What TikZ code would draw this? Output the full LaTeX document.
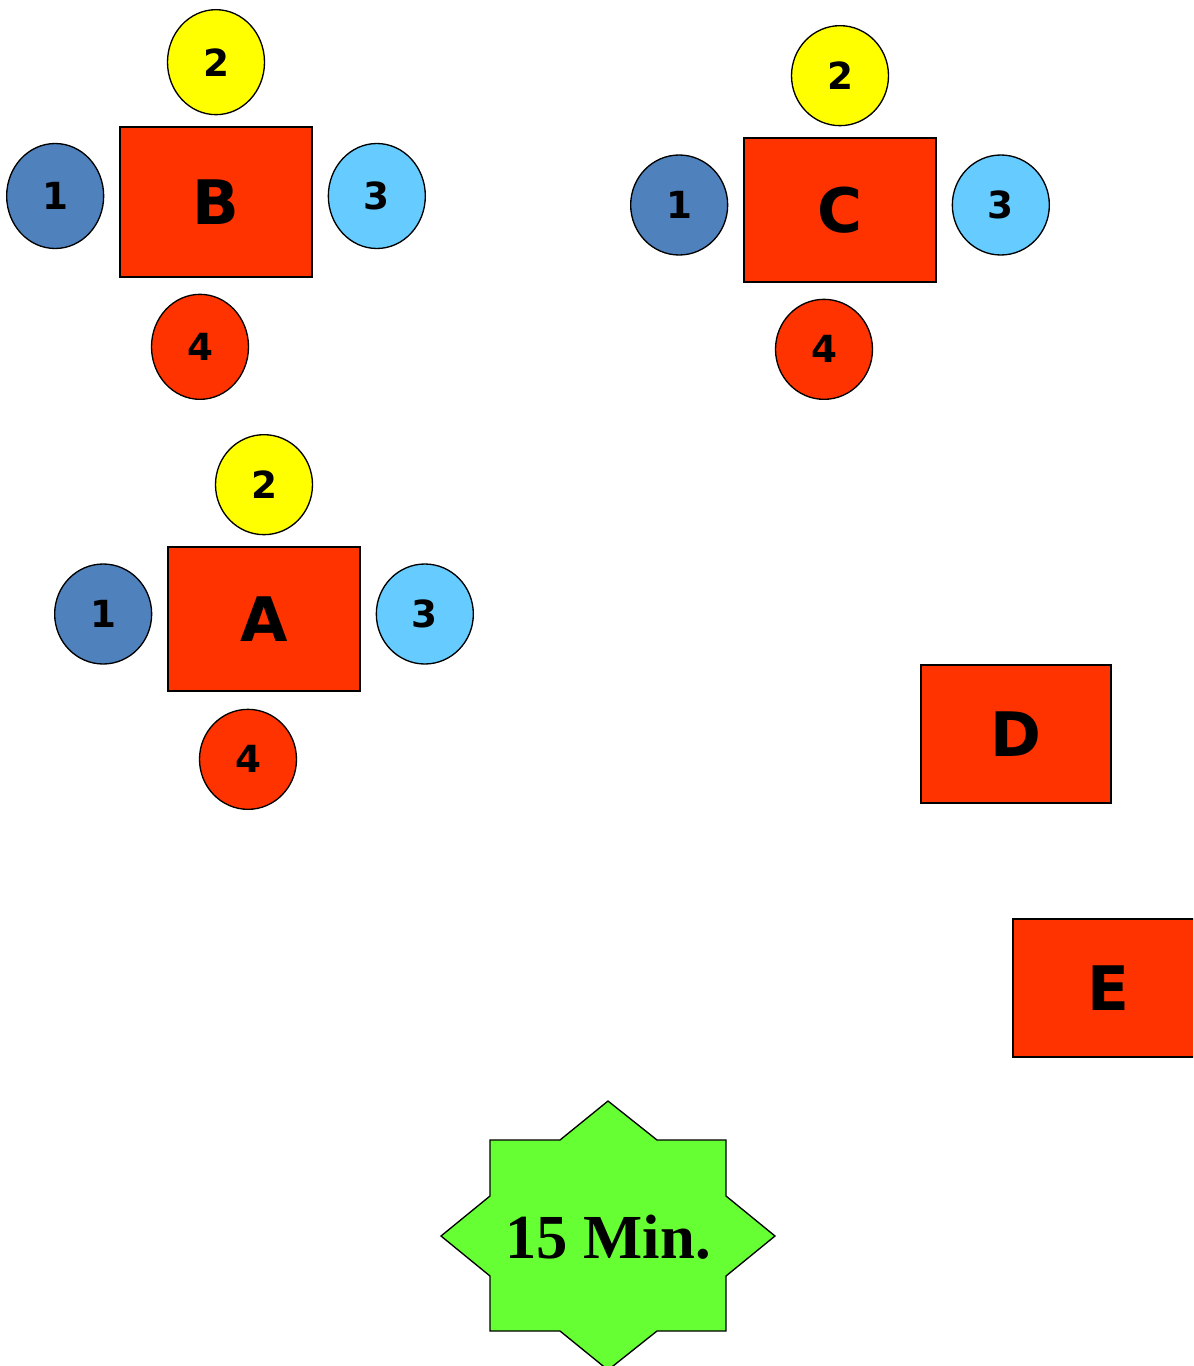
\documentclass[tikz,border=0pt]{standalone}
\usepackage{fontspec}
\setsansfont{DejaVu Sans}
\newfontfamily\timerfont{Liberation Serif}
\usetikzlibrary{positioning,shapes.geometric}
\definecolor{tablered}{HTML}{FF3300}
\definecolor{seatyellow}{HTML}{FFFF00}
\definecolor{seatblue}{HTML}{4F81BD}
\definecolor{seatsky}{HTML}{66CCFF}
\definecolor{timergreen}{HTML}{66FF33}

\begin{document}
\begin{tikzpicture}[x=0.75pt,y=-0.75pt,
  tablebox/.style={draw=black,line width=1pt,fill=tablered,inner sep=0pt,
    minimum width=144pt,minimum height=108pt,
    font=\sffamily\bfseries\fontsize{46}{46}\selectfont},
  seat/.style={ellipse,draw=black,line width=1pt,inner sep=0pt,
    minimum width=72.75pt,minimum height=75pt,
    font=\sffamily\bfseries\fontsize{28}{28}\selectfont},
  tall/.style={minimum height=78.75pt},
  burst/.style={draw=black,line width=1pt,fill=timergreen}]
  \clip (0,0) rectangle (1193,1366);

  % table B
  \node[tablebox,minimum height=112.5pt] (tabB) at (216,202) {B};
  \node[seat,tall,fill=seatyellow,above=8.25pt of tabB] (b2) {2};
  \node[seat,tall,fill=seatblue,left=11.25pt of tabB,yshift=4.5pt] (b1) {1};
  \node[seat,tall,fill=seatsky,right=11.25pt of tabB,yshift=4.5pt] (b3) {3};
  \node[seat,tall,fill=tablered,below=12pt of tabB,xshift=-12pt] (b4) {4};

  % table C
  \node[tablebox] (tabC) at (840,210) {C};
  \node[seat,fill=seatyellow,above=8.25pt of tabC] (c2) {2};
  \node[seat,fill=seatblue,left=11.25pt of tabC,yshift=3.75pt] (c1) {1};
  \node[seat,fill=seatsky,right=11.25pt of tabC,yshift=3.75pt] (c3) {3};
  \node[seat,fill=tablered,below=12pt of tabC,xshift=-12pt] (c4) {4};

  % table A
  \node[tablebox] (tabA) at (264,619) {A};
  \node[seat,fill=seatyellow,above=8.25pt of tabA] (a2) {2};
  \node[seat,fill=seatblue,left=11.25pt of tabA,yshift=3.75pt] (a1) {1};
  \node[seat,fill=seatsky,right=11.25pt of tabA,yshift=3.75pt] (a3) {3};
  \node[seat,fill=tablered,below=12.75pt of tabA,xshift=-12pt] (a4) {4};

  % single tables
  \node[tablebox,minimum width=142.5pt,minimum height=103.5pt] (tabD) at (1016,734) {D};
  \node[tablebox,minimum width=142.5pt,minimum height=103.5pt] (tabE) at (1108,988) {E};

  % timer
  \draw[burst] (608,1101) -- (657,1140) -- (726,1140) -- (726,1196) -- (775,1236)
    -- (726,1276) -- (726,1331) -- (657,1331) -- (608,1370) -- (560,1331)
    -- (490,1331) -- (490,1276) -- (441,1236) -- (490,1196) -- (490,1140)
    -- (560,1140) -- cycle;
  \node[font=\timerfont\bfseries\fontsize{47}{47}\selectfont] (timer) at (608,1237) {15 Min.};
\end{tikzpicture}
\end{document}
